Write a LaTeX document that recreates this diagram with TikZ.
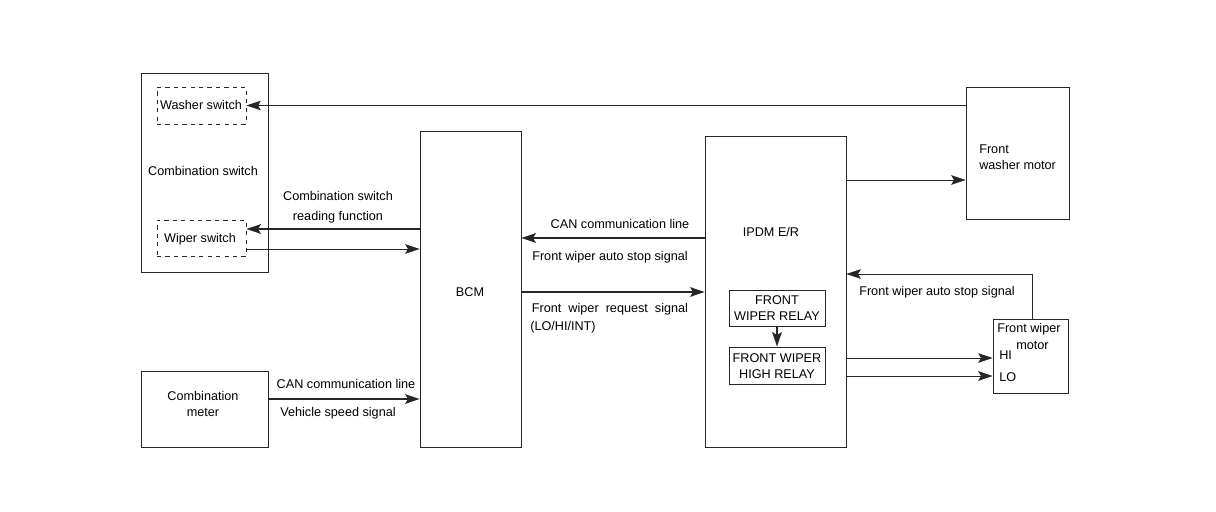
\documentclass[tikz,border=0pt]{standalone}
\usepackage{fontspec}
\setmainfont{Liberation Sans}
\usetikzlibrary{arrows.meta,fit,calc}
\begin{document}
\begin{tikzpicture}[x=0.025cm,y=-0.025cm,
  box/.style={draw=black!85,line width=0.6pt,inner sep=0pt},
  dbox/.style={draw=black!85,line width=0.6pt,dashed,inner sep=0pt},
  lbl/.style={font=\fontsize{9}{11}\selectfont,inner sep=0pt,align=center},
  arr/.style={draw=black!85,line width=0.6pt,-{Stealth[length=3.6mm,width=2.4mm,inset=0.7mm]}},
  tarr/.style={arr,line width=1.3pt}]
\useasboundingbox[fill=white] (0,0) rectangle (1216,512);
% boxes
\node[box,fit={(141,73) (268,272)}] (cs) {};
\node[dbox,fit={(157,87) (246,124)}] (ws) {};
\node[dbox,fit={(157,220) (246,256)}] (wsw) {};
\node[box,fit={(141,371) (268,447)}] (cm) {};
\node[box,fit={(420,131) (521,447)}] (bcm) {};
\node[box,fit={(705,136) (846,447)}] (ipdm) {};
\node[box,fit={(729,290) (825,326)}] (fwr) {};
\node[box,fit={(729,347) (825,384)}] (fwhr) {};
\node[box,fit={(966,87) (1069,219)}] (wm) {};
\node[box,fit={(993,319) (1068,393)}] (wpm) {};
% texts
\node[lbl] (t1) at (201,105) {Washer switch};
\node[lbl] (t2) at (203,171) {Combination switch};
\node[lbl] (t3) at (200,239) {Wiper switch};
\node[lbl] (t4) at (203,404) {Combination\\meter};
\node[lbl] (t5) at (470,292) {BCM};
\node[lbl] (t6) at (771,232) {IPDM E/R};
\node[lbl] (t7) at (777,308) {FRONT\\WIPER RELAY};
\node[lbl] (t8) at (777,366) {FRONT WIPER\\HIGH RELAY};
\node[lbl,align=left,anchor=west] (t9) at (979,157) {Front\\washer motor};
\node[lbl,anchor=north west] (t10) at (997,323) {Front wiper};
\node[lbl,anchor=west] (t11) at (1016,345) {motor};
\node[lbl,anchor=west] (t12) at (999,355) {HI};
\node[lbl,anchor=west] (t13) at (999,377) {LO};
\node[lbl] (t14) at (338,196) {Combination switch};
\node[lbl] (t15) at (338,217) {reading function};
\node[lbl] (t16) at (346,384) {CAN communication line};
\node[lbl] (t17) at (338,413) {Vehicle speed signal};
\node[lbl] (t18) at (620,224) {CAN communication line};
\node[lbl] (t19) at (610,257) {Front wiper auto stop signal};
\node[lbl] (t20) at (610,309) {Front\ \ wiper\ \ request\ \ signal};
\node[lbl,anchor=west] (t21) at (530,327) {(LO/HI/INT)};
\node[lbl] (t22) at (937,292) {Front wiper auto stop signal};
% connectors
\draw[arr] (ws.east -| wm.west) -- (ws.east);
\draw[tarr] (bcm.west |- 0,229) -- (wsw.east |- 0,229);
\draw[arr] (wsw.east |- 0,249) -- (bcm.west |- 0,249);
\draw[tarr] (cm.east |- 0,399) -- (bcm.west |- 0,399);
\draw[tarr] (ipdm.west |- 0,238) -- (bcm.east |- 0,238);
\draw[tarr] (bcm.east |- 0,292) -- (ipdm.west |- 0,292);
\draw[arr] (ipdm.east |- 0,180) -- (wm.west |- 0,180);
\draw[arr] (wpm.north -| 1032,0) -- (1032,274) -- (ipdm.east |- 0,274);
\draw[tarr] (fwr.south) -- (fwhr.north);
\draw[arr] (ipdm.east |- 0,358) -- (wpm.west |- 0,358);
\draw[arr] (ipdm.east |- 0,376) -- (wpm.west |- 0,376);
\end{tikzpicture}
\end{document}
